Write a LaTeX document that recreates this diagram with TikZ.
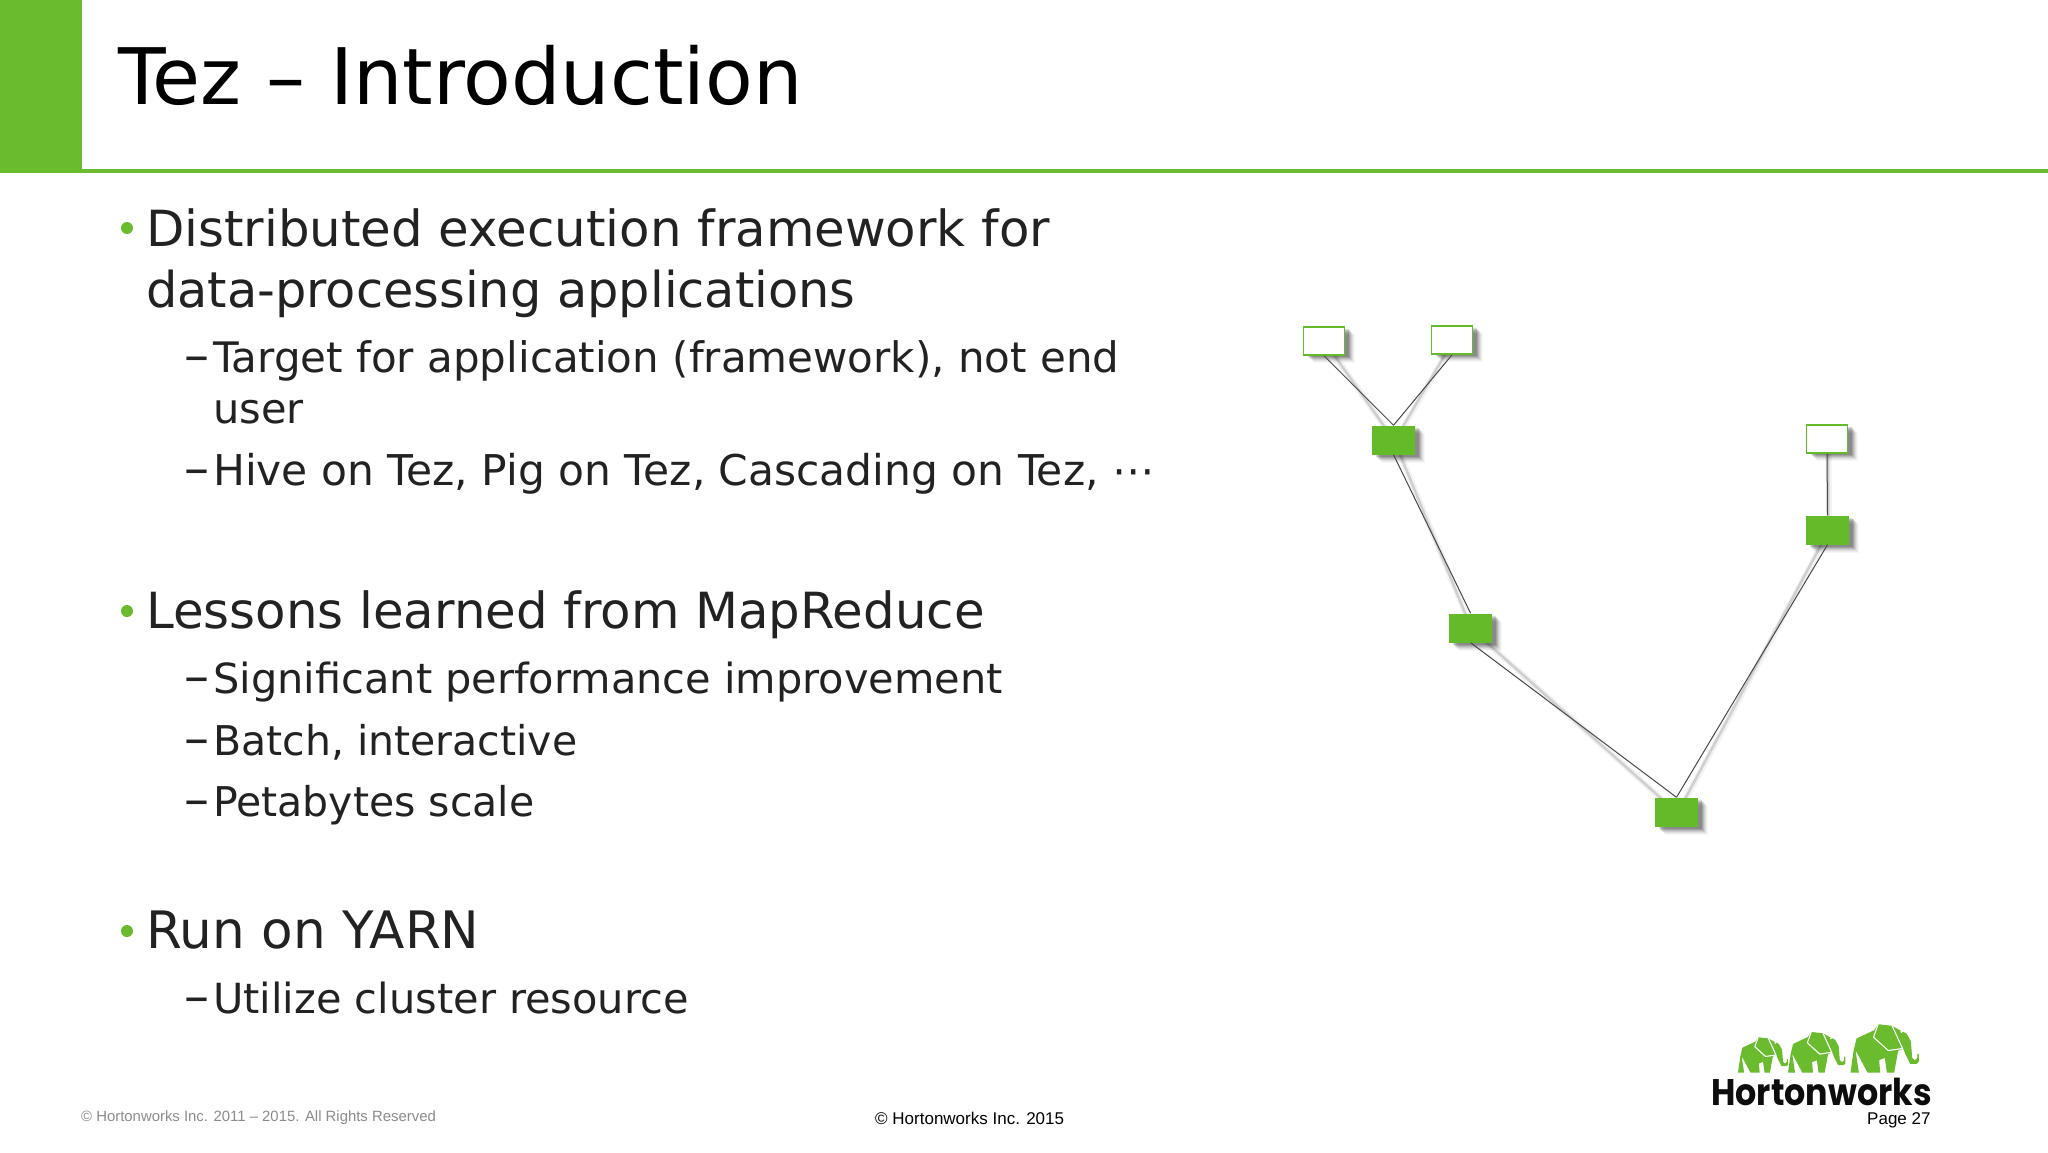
\documentclass[tikz,border=0pt]{standalone}
\usepackage{fontspec}
\setmainfont{DejaVu Sans}
\newfontfamily\footfont{Liberation Sans}
\newfontfamily\logofont{Poppins}[UprightFont=* Bold,FakeStretch=0.9]
\definecolor{hwgreen}{RGB}{106,187,46}
\definecolor{boxgreen}{RGB}{99,187,41}
\definecolor{ink}{RGB}{34,34,36}
\newcommand{\sizedfont}[1]{\fontsize{#1}{#1}\selectfont}
\tikzset{
  titletext/.style={anchor=base west,inner sep=0pt,font=\sizedfont{78},text=black},
  lone/.style={anchor=base west,inner sep=0pt,font=\sizedfont{49.8},text=ink},
  ltwo/.style={anchor=base west,inner sep=0pt,font=\sizedfont{41.5},text=ink},
  ldash/.style={anchor=base west,inner sep=0pt,font=\sizedfont{50},text=ink},
  bullet/.style={circle,fill=hwgreen,inner sep=0pt,minimum size=12pt},
  softshadow/.style={
    preaction={draw=none,fill=black,fill opacity=.03,transform canvas={shift={(10pt,-8pt)}}},
    preaction={draw=none,fill=black,fill opacity=.04,transform canvas={shift={(9pt,-7pt)}}},
    preaction={draw=none,fill=black,fill opacity=.06,transform canvas={shift={(8pt,-6pt)}}},
    preaction={draw=none,fill=black,fill opacity=.08,transform canvas={shift={(7pt,-5pt)}}},
    preaction={draw=none,fill=black,fill opacity=.10,transform canvas={shift={(6pt,-4pt)}}},
    preaction={draw=none,fill=black,fill opacity=.12,transform canvas={shift={(5pt,-3pt)}}},
    preaction={draw=none,fill=black,fill opacity=.14,transform canvas={shift={(4pt,-2pt)}}}},
  gbox/.style={rectangle,inner sep=0pt,minimum width=43pt,minimum height=29pt,fill=boxgreen,softshadow},
  wbox/.style={rectangle,inner sep=0pt,minimum width=41pt,minimum height=28pt,fill=white,draw=boxgreen,line width=1.6pt,softshadow},
  edgeline/.style={draw=black!72,line width=1pt},
  edgeshadow/.style={draw=black,opacity=.14,line width=2.5pt,transform canvas={shift={(1pt,-1pt)}}},
  edgeglow/.style={draw=black,opacity=.05,line width=6pt,transform canvas={shift={(1.5pt,-1.5pt)}}},
  foot/.style={anchor=base west,inner sep=0pt,text=black},
  elephantbody/.style={fill=hwgreen,draw=none},
  elephantcut/.style={draw=white,line width=1.1pt,line join=round},
}
\newcommand{\hwelephant}[3]{%
  \begin{scope}[shift={(#1,#2)},scale=#3/3,shift={(-47,-172)}]
    \fill[elephantbody] (47,172)--(56,108)--(65,70)--(118,45)--(130,27)--(172,32)--(195,45)--(215,55)--(228,78)--(232,128)--(240,135)--(248,128)--(247,115)--(252,118)--(252,140)--(246,146)--(226,146)--(212,118)--(205,100)--(190,107)--(178,172)--(156,172)--(150,128)--(133,135)--(136,172)--(98,172)--(62,105)--(72,172)--cycle;
    \draw[elephantcut] (130,27)--(116,66)--(160,106)--(203,100)--(172,32);
    \fill[white] (200,50) circle (4);
  \end{scope}}
\begin{document}
\begin{tikzpicture}[x=1pt,y=-1pt]
\useasboundingbox (0,0) rectangle (2048,1152);
\fill[white] (0,0) rectangle (2048,1152);
\fill[hwgreen] (0,0) rectangle (82,172.5);
\fill[hwgreen] (0,168.5) rectangle (2048,172.5);
\node[titletext] (title) at (118,104) {Tez – Introduction};
% body
\node[bullet] (b1) at (127,228) {};
\node[lone] (t1) at (146,246) {Distributed execution framework for};
\node[lone,font=\sizedfont{49.4}] (t2) at (146,307.5) {data-processing applications};
\node[ldash] (d1) at (184,372.5) {–};
\node[ltwo,font=\sizedfont{42}] (t3) at (213,372.5) {Target for application (framework), not end};
\node[ltwo] (t4) at (213,423.5) {user};
\node[ldash] (d2) at (184,485) {–};
\node[ltwo,font=\sizedfont{42.4}] (t5) at (213,485) {Hive on Tez, Pig on Tez, Cascading on Tez, ⋯};
\node[bullet] (b2) at (127,611) {};
\node[lone] (t6) at (146,628.5) {Lessons learned from MapReduce};
\node[ldash] (d3) at (184,693.5) {–};
\node[ltwo] (t7) at (213,693.5) {Significant performance improvement};
\node[ldash] (d4) at (184,755) {–};
\node[ltwo,font=\sizedfont{41}] (t8) at (213,755) {Batch, interactive};
\node[ldash] (d5) at (184,816.5) {–};
\node[ltwo,font=\sizedfont{41}] (t9) at (213,816.5) {Petabytes scale};
\node[bullet] (b3) at (127,931) {};
\node[lone,font=\sizedfont{51.6}] (t10) at (146,948.5) {Run on YARN};
\node[ldash] (d6) at (184,1013.5) {–};
\node[ltwo] (t11) at (213,1013.5) {Utilize cluster resource};
% graph
\coordinate (pa) at (1324,341);
\coordinate (pb) at (1452,340);
\coordinate (pc) at (1393.5,440);
\coordinate (pd) at (1470.6,628);
\coordinate (pe) at (1676.5,812);
\coordinate (pf) at (1827,439);
\coordinate (pg) at (1827.5,530);
\foreach \u/\v in {pa/pc,pb/pc,pc/pd,pd/pe,pe/pg,pf/pg}{\draw[edgeglow] (\u)--(\v);\draw[edgeshadow] (\u)--(\v);}
\node[wbox] (wa) at (pa) {};
\node[wbox] (wb) at (pb) {};
\node[wbox] (wf) at (pf) {};
\node[gbox] (ga) at (pc) {};
\node[gbox] (gb) at (pd) {};
\node[gbox] (gc) at (pe) {};
\node[gbox] (gd) at (pg) {};
\draw[edgeline] (wa.south) -- (ga.north);
\draw[edgeline] (wb.south) -- (ga.north);
\draw[edgeline] (ga.south) -- (gb.north);
\draw[edgeline] (gb.south) -- (gc.north);
\draw[edgeline] (gd.south) -- (gc.north);
\draw[edgeline] (wf.south) -- (gd.north);
% footer
\node[foot,font=\footfont\sizedfont{14.9},text=black!45] (copy1) at (81,1121) {© Hortonworks Inc. 2011 – 2015. All Rights Reserved};
\node[foot,font=\footfont\sizedfont{17}] (copy2) at (875,1124) {© Hortonworks Inc. 2015};
\hwelephant{1738}{1072.5}{0.73}
\hwelephant{1788}{1072.5}{0.84}
\hwelephant{1850.5}{1072.5}{1}
\node[foot,font=\logofont\sizedfont{37},text=black!95] (logo) at (1711,1105.5) {Hortonworks};
\node[foot,font=\footfont\sizedfont{17}] (page) at (1867,1124) {Page 27};
\end{tikzpicture}
\end{document}
